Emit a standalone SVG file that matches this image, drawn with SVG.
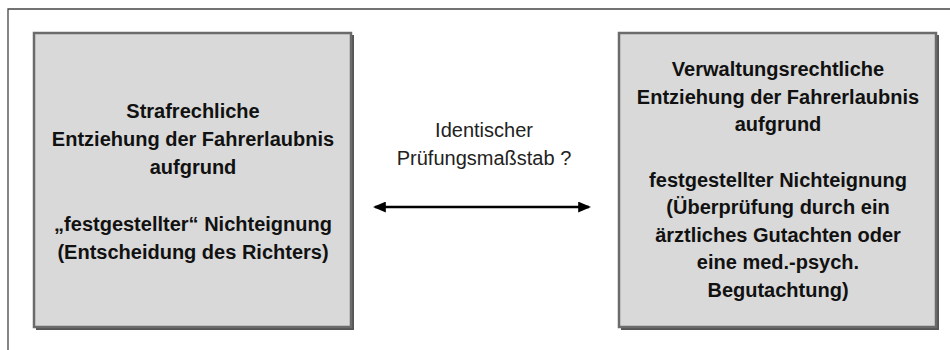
<svg xmlns="http://www.w3.org/2000/svg" width="950" height="350" viewBox="0 0 950 350">
<style>
.box{fill:#d9d9d9;stroke:#6b6b6b;stroke-width:2.5}
.shadow{fill:#555}
.t{font-family:"Liberation Sans",Arial,sans-serif;font-weight:bold;font-size:20px;fill:#111;text-anchor:middle}
.m{font-family:"Liberation Sans",Arial,sans-serif;font-size:20px;fill:#222;text-anchor:middle}
.frame{stroke:#444;stroke-width:1.3;fill:none}
</style>
<defs>
<marker id="ah" viewBox="0 0 12 10" refX="10" refY="5" markerWidth="13" markerHeight="11" markerUnits="userSpaceOnUse" orient="auto-start-reverse">
<path d="M0,0 L12,5 L0,10 z" fill="#000"/>
</marker>
</defs>
<rect width="950" height="350" fill="#fff"/>
<path class="frame" d="M8,350 V9 H950"/>
<g id="node-left">
<rect class="shadow" x="36" y="35" width="318" height="295"/>
<rect class="box" x="34" y="33" width="317" height="294"/>
<text class="t" x="193" y="118">Strafrechliche</text>
<text class="t" x="193" y="146">Entziehung der Fahrerlaubnis</text>
<text class="t" x="193" y="174">aufgrund</text>
<text class="t" x="193" y="231">„festgestellter“ Nichteignung</text>
<text class="t" x="193" y="259">(Entscheidung des Richters)</text>
</g>
<g id="node-right">
<rect class="shadow" x="621" y="35" width="318" height="295"/>
<rect class="box" x="619" y="33" width="317" height="294"/>
<text class="t" x="778" y="76">Verwaltungsrechtliche</text>
<text class="t" x="778" y="104">Entziehung der Fahrerlaubnis</text>
<text class="t" x="778" y="131">aufgrund</text>
<text class="t" x="778" y="187">festgestellter Nichteignung</text>
<text class="t" x="778" y="214">(Überprüfung durch ein</text>
<text class="t" x="778" y="242">ärztliches Gutachten oder</text>
<text class="t" x="778" y="269">eine med.-psych.</text>
<text class="t" x="778" y="297">Begutachtung)</text>
</g>
<g id="connectors">
<line x1="375" y1="207" x2="589" y2="207" stroke="#000" stroke-width="2.5" marker-start="url(#ah)" marker-end="url(#ah)"/>
<text class="m" x="484" y="137">Identischer</text>
<text class="m" x="484" y="165">Prüfungsmaßstab ?</text>
</g>
</svg>
